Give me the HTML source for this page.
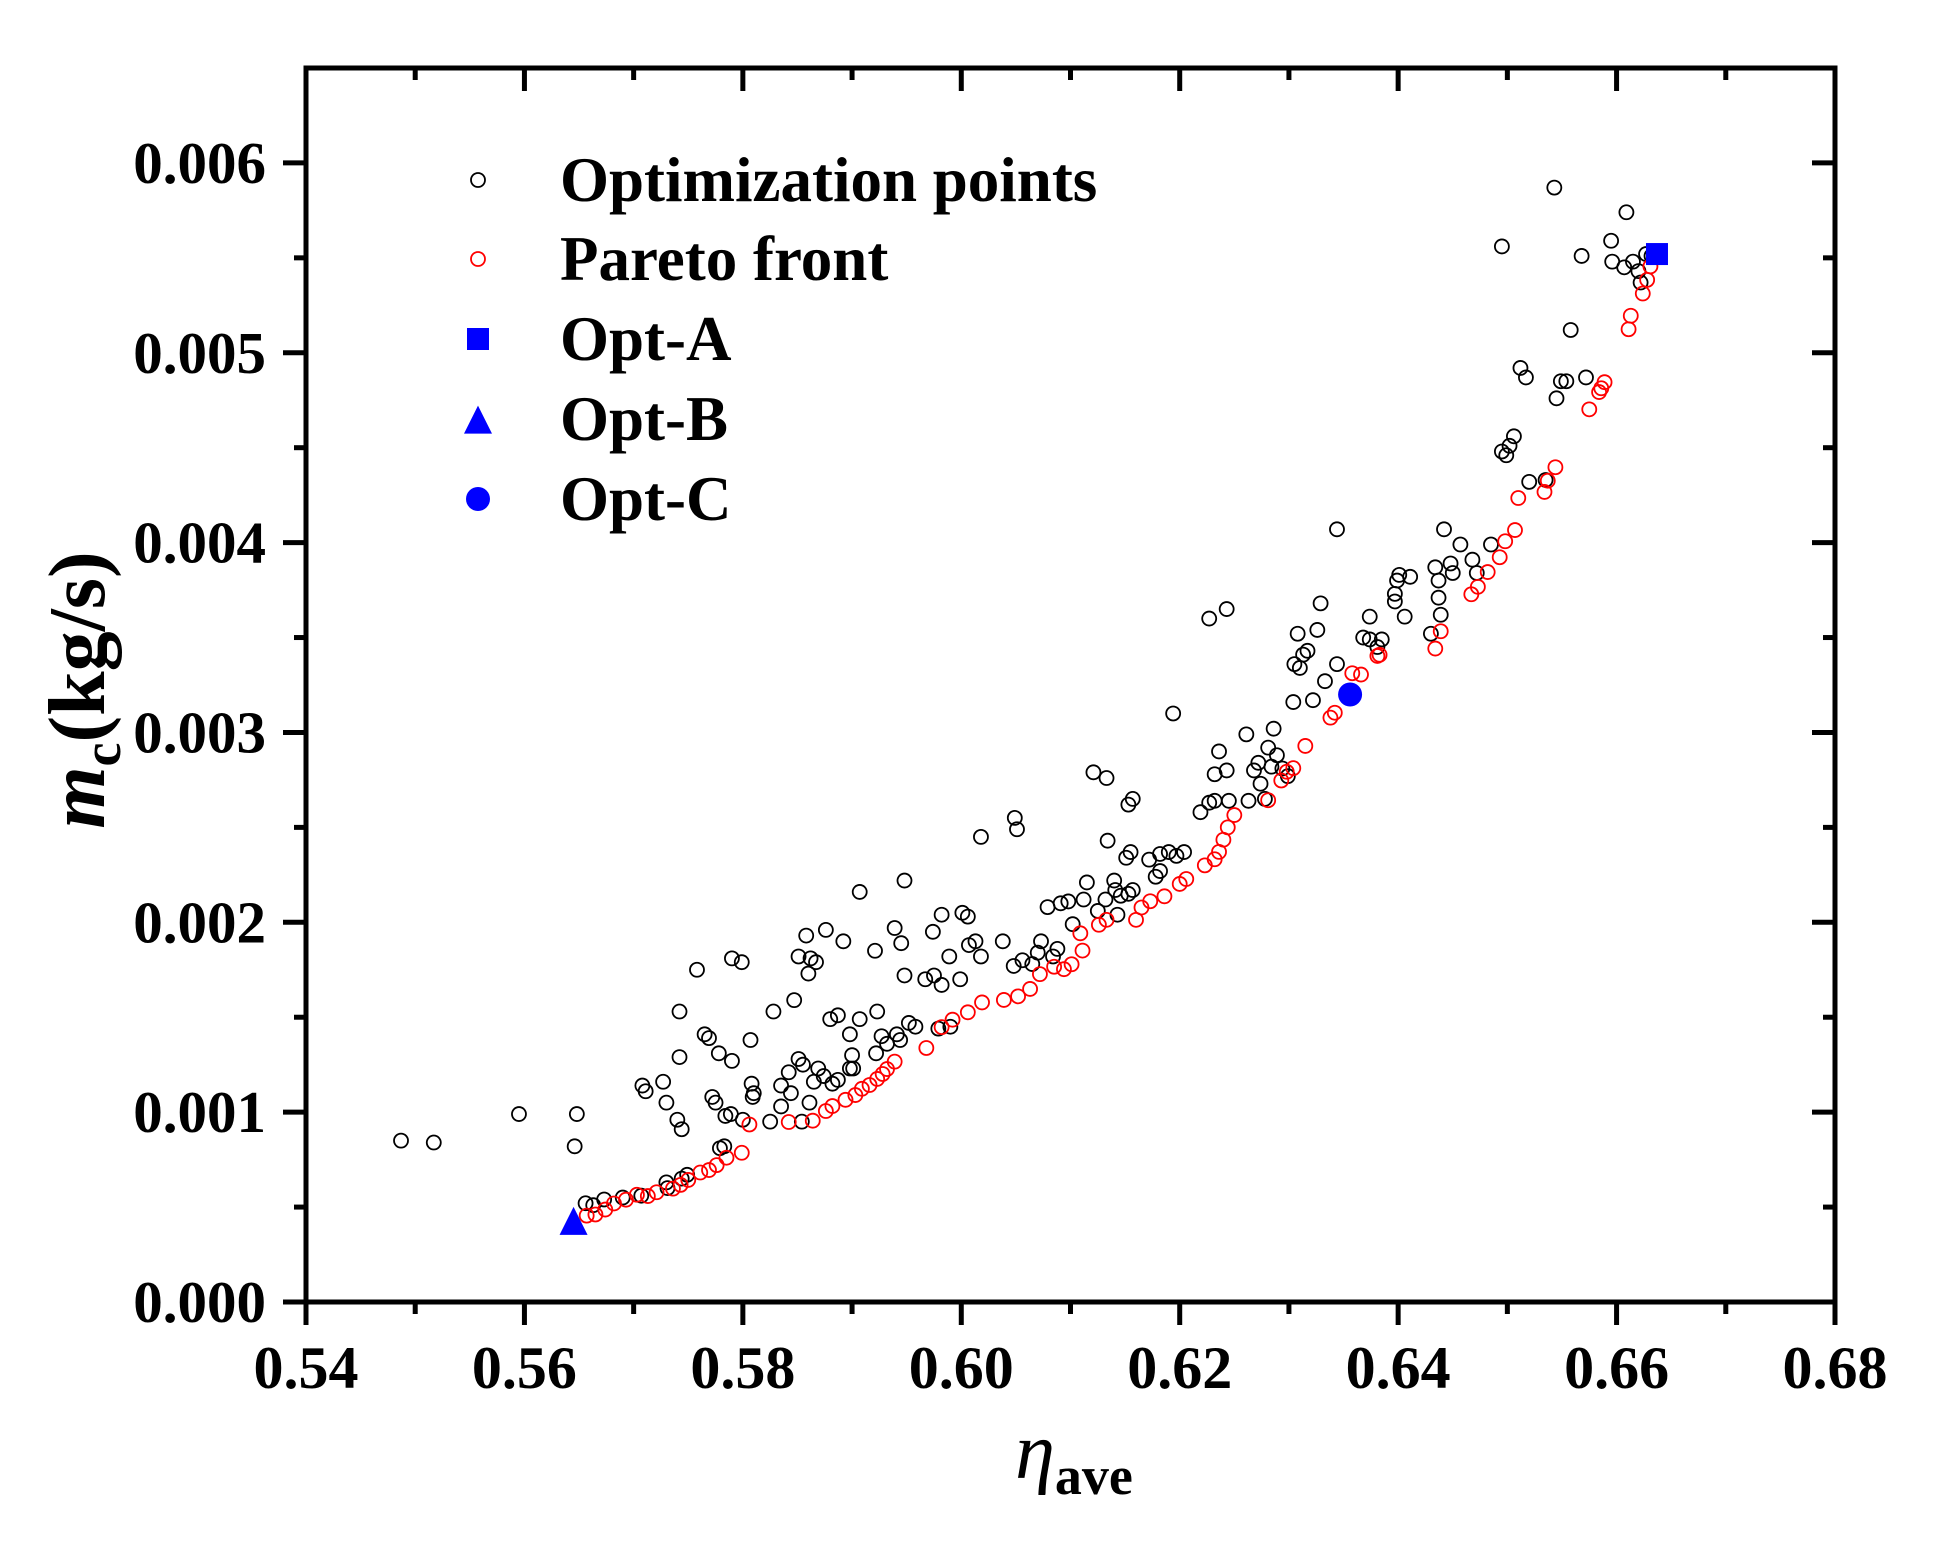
<!DOCTYPE html>
<html><head><meta charset="utf-8"><style>
html,body{margin:0;padding:0;background:#fff;}
svg{display:block;font-family:"Liberation Serif",serif;font-weight:bold;}
</style></head><body>
<svg id="chart" width="1933" height="1548" viewBox="0 0 1933 1548" xmlns="http://www.w3.org/2000/svg">
<g id="plot"></g>
<text transform="translate(104,690) rotate(-90)" text-anchor="middle" font-size="80"><tspan font-style="italic">m</tspan><tspan font-size="54" dy="16">c</tspan><tspan dy="-16">(kg/s)</tspan></text>
<text x="1074" y="1478" text-anchor="middle" font-size="80"><tspan font-style="italic" font-weight="normal">η</tspan><tspan font-size="54" dy="16">ave</tspan></text>
</svg>
<script>
const xTicks=[0.54,0.56,0.58,0.60,0.62,0.64,0.66,0.68];
const xTickLabels=["0.54","0.56","0.58","0.60","0.62","0.64","0.66","0.68"];
const yTicks=[0,0.001,0.002,0.003,0.004,0.005,0.006];
const yTickLabels=["0.000","0.001","0.002","0.003","0.004","0.005","0.006"];
const optX=[0.5487,0.5517,0.5595,0.5648,0.5646,0.5656,0.5663,0.5673,0.569,0.5707,0.573,0.5744,0.5731,0.5749,0.5708,0.5711,0.5727,0.573,0.574,0.5744,0.5742,0.5742,0.5758,0.5765,0.5769,0.5772,0.5775,0.5778,0.5779,0.5783,0.579,0.5799,0.579,0.5784,0.5789,0.58,0.5807,0.5808,0.5809,0.581,0.5825,0.5828,0.5835,0.5835,0.5842,0.5844,0.5847,0.5851,0.5855,0.5851,0.5858,0.5862,0.5867,0.586,0.5854,0.5861,0.5865,0.5869,0.5874,0.5876,0.5892,0.588,0.5887,0.5882,0.5887,0.5898,0.59,0.5901,0.5898,0.5907,0.5907,0.5921,0.5923,0.5922,0.5927,0.5932,0.5939,0.5941,0.5944,0.5948,0.5945,0.5948,0.5952,0.5958,0.5967,0.5975,0.5974,0.5982,0.5982,0.5989,0.599,0.5979,0.6001,0.6006,0.5999,0.6007,0.6013,0.6018,0.6018,0.6038,0.6049,0.6051,0.6048,0.6056,0.6065,0.607,0.6073,0.6079,0.6084,0.6088,0.6091,0.6098,0.6102,0.6115,0.6112,0.6121,0.6133,0.6125,0.6132,0.6134,0.614,0.6141,0.6143,0.6146,0.6151,0.6155,0.6153,0.6157,0.6153,0.6157,0.6172,0.6182,0.6182,0.619,0.6178,0.6194,0.6197,0.6204,0.6219,0.6227,0.6232,0.6227,0.6243,0.6232,0.6236,0.6243,0.6245,0.6261,0.6263,0.6268,0.6272,0.6274,0.6278,0.6281,0.6286,0.6284,0.6289,0.6294,0.6299,0.6304,0.6305,0.6308,0.631,0.6313,0.6317,0.6322,0.6326,0.6329,0.6333,0.6344,0.6344,0.6368,0.6374,0.6374,0.6381,0.6385,0.6397,0.6399,0.6401,0.6411,0.6397,0.6406,0.643,0.6434,0.6437,0.6437,0.6439,0.6442,0.6448,0.645,0.6457,0.6468,0.6472,0.6485,0.6495,0.6495,0.6499,0.6502,0.6506,0.6512,0.6517,0.652,0.6535,0.6543,0.6545,0.6549,0.6554,0.6558,0.6568,0.6572,0.6595,0.6596,0.6607,0.6609,0.6615,0.662,0.6622,0.6627,0.6632];
const optY=[0.00085,0.00084,0.00099,0.00099,0.00082,0.00052,0.00051,0.00054,0.00055,0.00056,0.00063,0.00065,0.0006,0.00067,0.00114,0.00111,0.00116,0.00105,0.00096,0.00091,0.00129,0.00153,0.00175,0.00141,0.00139,0.00108,0.00105,0.00131,0.00081,0.00082,0.00181,0.00179,0.00127,0.00098,0.00099,0.00096,0.00138,0.00115,0.00108,0.0011,0.00095,0.00153,0.00103,0.00114,0.00121,0.0011,0.00159,0.00128,0.00125,0.00182,0.00193,0.00181,0.00179,0.00173,0.00095,0.00105,0.00116,0.00123,0.00119,0.00196,0.0019,0.00149,0.00151,0.00115,0.00117,0.00141,0.0013,0.00123,0.00123,0.00216,0.00149,0.00185,0.00153,0.00131,0.0014,0.00136,0.00197,0.00141,0.00138,0.00172,0.00189,0.00222,0.00147,0.00145,0.0017,0.00172,0.00195,0.00204,0.00167,0.00182,0.00145,0.00144,0.00205,0.00203,0.0017,0.00188,0.0019,0.00182,0.00245,0.0019,0.00255,0.00249,0.00177,0.0018,0.00178,0.00184,0.0019,0.00208,0.00182,0.00186,0.0021,0.00211,0.00199,0.00221,0.00212,0.00279,0.00276,0.00206,0.00212,0.00243,0.00222,0.00217,0.00204,0.00214,0.00234,0.00237,0.00215,0.00217,0.00262,0.00265,0.00233,0.00227,0.00236,0.00237,0.00224,0.0031,0.00235,0.00237,0.00258,0.00263,0.00264,0.0036,0.00365,0.00278,0.0029,0.0028,0.00264,0.00299,0.00264,0.0028,0.00284,0.00273,0.00265,0.00292,0.00302,0.00282,0.00288,0.00281,0.00277,0.00316,0.00336,0.00352,0.00334,0.00341,0.00343,0.00317,0.00354,0.00368,0.00327,0.00407,0.00336,0.0035,0.00361,0.00349,0.00345,0.00349,0.00373,0.0038,0.00383,0.00382,0.00369,0.00361,0.00352,0.00387,0.0038,0.00371,0.00362,0.00407,0.00389,0.00384,0.00399,0.00391,0.00384,0.00399,0.00556,0.00448,0.00446,0.00451,0.00456,0.00492,0.00487,0.00432,0.00433,0.00587,0.00476,0.00485,0.00485,0.00512,0.00551,0.00487,0.00559,0.00548,0.00545,0.00574,0.00548,0.00543,0.00537,0.00552,0.00551];
const parX=[0.5657,0.5665,0.5674,0.5682,0.5693,0.5703,0.5713,0.5721,0.5736,0.5743,0.575,0.5761,0.5769,0.5776,0.5785,0.5799,0.5806,0.5842,0.5864,0.5876,0.5882,0.5894,0.5903,0.5909,0.5916,0.5923,0.5928,0.5932,0.5939,0.5968,0.5982,0.5992,0.6006,0.6019,0.6039,0.6052,0.6063,0.6072,0.6085,0.6094,0.6101,0.6111,0.6109,0.6126,0.6133,0.616,0.6165,0.6173,0.6186,0.62,0.6206,0.6223,0.6232,0.6236,0.624,0.6244,0.625,0.6281,0.6293,0.6298,0.6304,0.6315,0.6338,0.6342,0.6358,0.6366,0.6381,0.6383,0.6434,0.6439,0.6467,0.6473,0.6482,0.6493,0.6498,0.6507,0.651,0.6534,0.6537,0.6544,0.6575,0.6584,0.6586,0.6589,0.6611,0.6613,0.6624,0.6628,0.6631];
const parY=[0.000455,0.000461,0.000487,0.000519,0.000539,0.000565,0.000558,0.000578,0.000597,0.000617,0.000643,0.000682,0.000695,0.000721,0.00076,0.000786,0.000935,0.000948,0.000955,0.001006,0.001032,0.001065,0.00109,0.001123,0.001143,0.001175,0.001201,0.001227,0.001266,0.001338,0.001448,0.001487,0.001526,0.001578,0.001591,0.00161,0.001649,0.001727,0.001766,0.001753,0.001779,0.001851,0.001942,0.001987,0.002013,0.002013,0.002078,0.002111,0.002137,0.002202,0.002228,0.0023,0.002332,0.002371,0.002435,0.0025,0.002565,0.002643,0.002747,0.002793,0.002812,0.002929,0.003078,0.003104,0.003312,0.003305,0.003403,0.003409,0.003442,0.003533,0.003728,0.003767,0.003845,0.003923,0.004007,0.004066,0.004235,0.004267,0.004326,0.004397,0.004702,0.004793,0.004813,0.004845,0.005124,0.005195,0.005312,0.005384,0.005455];
const optA=[0.6637,0.00552];
const optB=[0.5645,0.00042];
const optC=[0.6356,0.0032];

const L=306,R=1835,T=68,B=1302;
const x0=0.54,x1=0.68,y0=0,y1=0.0065;
function sx(v){return L+(v-x0)/(x1-x0)*(R-L);}
function sy(v){return B-(v-y0)/(y1-y0)*(B-T);}
const NS="http://www.w3.org/2000/svg";
const g=document.getElementById('plot');
function mk(tag,attrs){const e=document.createElementNS(NS,tag);for(const k in attrs)e.setAttribute(k,attrs[k]);g.appendChild(e);return e;}

let fr=mk('rect',{x:L,y:T,width:R-L,height:B-T,fill:'none',stroke:'#000','stroke-width':5});


for(let i=0;i<xTicks.length;i++){
  const X=sx(xTicks[i]);
  let t=mk('line',{x1:X,y1:B,x2:X,y2:B+23,stroke:'#000','stroke-width':5});
  
  
  mk('line',{x1:X,y1:T,x2:X,y2:T+23,stroke:'#000','stroke-width':5});
  let lb=mk('text',{x:X,y:B+86,'text-anchor':'middle','font-size':60});
  lb.textContent=xTickLabels[i];
  
  
  if(i<xTicks.length-1){
    const M=sx(xTicks[i]+0.01);
    mk('line',{x1:M,y1:B,x2:M,y2:B+12,stroke:'#000','stroke-width':5});
    mk('line',{x1:M,y1:T,x2:M,y2:T+12,stroke:'#000','stroke-width':5});
  }
}
for(let i=0;i<yTicks.length;i++){
  const Y=sy(yTicks[i]);
  let t=mk('line',{x1:L-23,y1:Y,x2:L,y2:Y,stroke:'#000','stroke-width':5});
  
  
  mk('line',{x1:R-23,y1:Y,x2:R,y2:Y,stroke:'#000','stroke-width':5});
  let lb=mk('text',{x:266,y:Y+20,'text-anchor':'end','font-size':59});
  lb.textContent=yTickLabels[i];
  
  
  const M=sy(yTicks[i]+0.0005);
  if(M>T){
    mk('line',{x1:L-12,y1:M,x2:L,y2:M,stroke:'#000','stroke-width':5});
    mk('line',{x1:R-12,y1:M,x2:R,y2:M,stroke:'#000','stroke-width':5});
  }
}
for(let i=0;i<optX.length;i++){
  let c=mk('circle',{cx:sx(optX[i]),cy:sy(optY[i]),r:7,fill:'none',stroke:'#000','stroke-width':1.8});
  
  
}
for(let i=0;i<parX.length;i++){
  let c=mk('circle',{cx:sx(parX[i]),cy:sy(parY[i]),r:7,fill:'none',stroke:'#ff0000','stroke-width':1.8});
  
  
}
function square(cx,cy,s){return mk('rect',{x:cx-s/2,y:cy-s/2,width:s,height:s,fill:'#0000ff'});}
function tri(cx,cy,s){return mk('polygon',{points:`${cx},${cy-s*0.55} ${cx-s/2},${cy+s*0.45} ${cx+s/2},${cy+s*0.45}`,fill:'#0000ff'});}
let a=square(sx(optA[0]),sy(optA[1]),22);


let b=tri(sx(optB[0]),sy(optB[1]),28);


let c=mk('circle',{cx:sx(optC[0]),cy:sy(optC[1]),r:12,fill:'#0000ff'});



const legY=[180,259,339,419,499];
const legLabels=["Optimization points","Pareto front","Opt-A","Opt-B","Opt-C"];
const MX=478;
let l0=mk('circle',{cx:MX,cy:legY[0],r:7,fill:'none',stroke:'#000','stroke-width':1.8});


let l1=mk('circle',{cx:MX,cy:legY[1],r:7,fill:'none',stroke:'#ff0000','stroke-width':1.8});


let l2=square(MX,legY[2],22);


let l3=tri(MX,legY[3]+2,28);


let l4=mk('circle',{cx:MX,cy:legY[4],r:12,fill:'#0000ff'});


for(let i=0;i<legLabels.length;i++){
  let t=mk('text',{x:560,y:legY[i]+21,'font-size':63});
  t.textContent=legLabels[i];
  
  
}
</script>
</body></html>
